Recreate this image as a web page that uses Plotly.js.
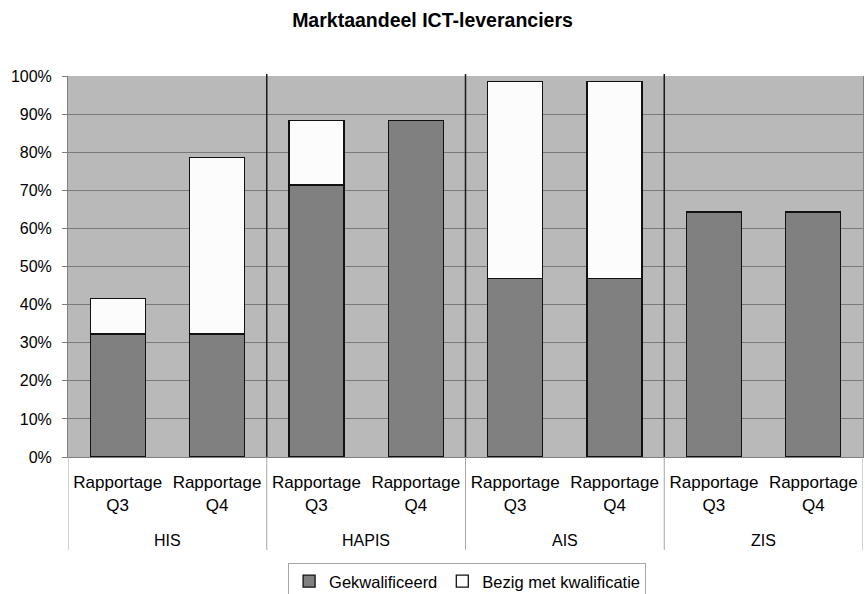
<!DOCTYPE html>
<html>
<head>
<meta charset="utf-8">
<script src="https://cdn.plot.ly/plotly-3.0.1.min.js"></script>
<style>html,body{margin:0;padding:0;background:#fff;}#chart{width:865px;height:594px;}</style>
</head>
<body>
<div id="chart"></div>
<script>
const groups = ["HIS", "HAPIS", "AIS", "ZIS"];
const periods = ["Rapportage<br>Q3", "Rapportage<br>Q4"];
const seriesNames = ["Gekwalificeerd", "Bezig met kwalificatie"];
const gekwalificeerd = [32.3, 32.3, 71.4, 88.4, 46.9, 46.9, 64.3, 64.3];
const bezig = [9.3, 46.3, 17.0, 0, 51.6, 51.6, 0, 0];
const yTicks = [0, 10, 20, 30, 40, 50, 60, 70, 80, 90, 100];
const yTickLabels = ["0%", "10%", "20%", "30%", "40%", "50%", "60%", "70%", "80%", "90%", "100%"];

const cats = [];
const tickText = [];
groups.forEach(g => periods.forEach(p => { cats.push(g + " " + p); tickText.push(p); }));

const font = "'Liberation Sans', Arial, sans-serif";

const traces = [
  {type: "bar", name: seriesNames[0], x: cats, y: gekwalificeerd,
   marker: {color: "#808080", line: {color: "#111", width: 1.3}}, hoverinfo: "skip"},
  {type: "bar", name: seriesNames[1], x: cats, y: bezig,
   marker: {color: "#fcfcfc", line: {color: "#111", width: 1.3}}, hoverinfo: "skip"}
];

const shapes = [];
const annotations = [];
const per = periods.length;
for (let i = 0; i <= groups.length; i++) {
  const xb = i * per - 0.5;
  shapes.push({type: "line", xref: "x", yref: "paper", x0: xb, x1: xb, y0: 0, y1: -0.244,
               line: {color: "#a6a6a6", width: 1}});
  if (i > 0 && i < groups.length) {
    shapes.push({type: "line", xref: "x", yref: "paper", x0: xb, x1: xb, y0: 0, y1: 1.005,
                 line: {color: "#1a1a1a", width: 1.5}});
  }
}
groups.forEach((g, i) => {
  annotations.push({text: g, xref: "x", yref: "paper", x: i * per + (per - 1) / 2, y: -0.218,
                    xanchor: "center", yanchor: "middle", showarrow: false,
                    font: {family: font, size: 16, color: "#000"}});
});

const layout = {
  width: 865, height: 594,
  margin: {l: 68, r: 2, t: 76, b: 137, autoexpand: false},
  paper_bgcolor: "#fff",
  plot_bgcolor: "#b9b9b9",
  barmode: "stack",
  bargap: 0.447,
  font: {family: font, size: 16, color: "#000"},
  title: {text: "<b>Marktaandeel ICT-leveranciers</b>", font: {family: font, size: 19.5, color: "#000"},
          x: 0.5, xanchor: "center", y: 0.966, yanchor: "middle", yref: "container"},
  xaxis: {type: "category", categoryorder: "array", categoryarray: cats,
          tickvals: cats, ticktext: tickText, range: [-0.5, cats.length - 0.5],
          showgrid: false, zeroline: false, ticks: "", showline: true, linecolor: "#808080", linewidth: 1,
          tickfont: {family: font, size: 17, color: "#000"}, ticklabelstandoff: 10, fixedrange: true},
  yaxis: {range: [0, 100], tickvals: yTicks, ticktext: yTickLabels, showgrid: true, gridcolor: "#7a7a7a", gridwidth: 1,
          zeroline: false, showline: true, linecolor: "#808080", linewidth: 1, mirror: true,
          ticks: "outside", ticklen: 5, tickcolor: "#808080", ticklabelstandoff: 7,
          tickfont: {family: font, size: 16, color: "#000"}, fixedrange: true},
  showlegend: true,
  legend: {orientation: "h", x: 0.502, xanchor: "center", y: -0.278, yanchor: "top",
           bgcolor: "#fff", bordercolor: "#a6a6a6", borderwidth: 1, traceorder: "normal",
           font: {family: font, size: 16.5, color: "#000"}},
  shapes: shapes,
  annotations: annotations
};

Plotly.newPlot("chart", traces, layout, {displayModeBar: false, staticPlot: true});
</script>
</body>
</html>
